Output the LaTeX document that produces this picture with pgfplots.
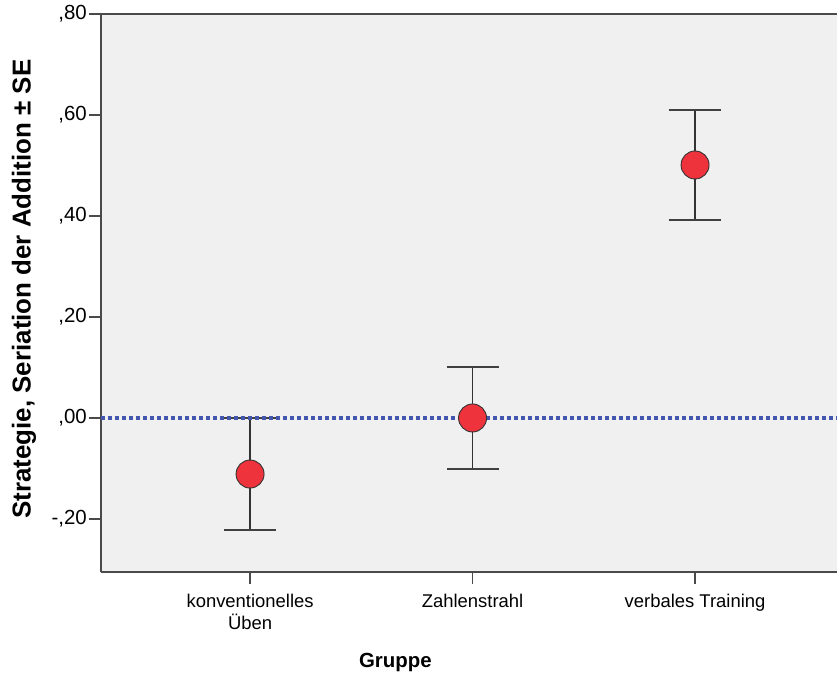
\documentclass[border=0pt]{standalone}
\usepackage{pgfplots}
\pgfplotsset{compat=1.18}
\usepackage{fontspec}
\setmainfont{Liberation Sans}
\definecolor{bgc}{HTML}{F0F0F0}
\definecolor{axc}{HTML}{4A4A4A}
\definecolor{ptc}{HTML}{EE333D}
\definecolor{refc}{HTML}{4257AD}
\begin{document}
\begin{tikzpicture}
\useasboundingbox (0,0) rectangle (837bp,683bp);
\begin{axis}[
  at={(101bp,111bp)}, anchor=south west,
  scale only axis, width=736bp, height=558bp,
  xmin=0.330, xmax=3.638, ymin=-0.305, ymax=0.80,
  axis x line*=bottom, axis y line*=left,
  axis line style={axc, line width=2bp},
  axis background/.style={fill=bgc},
  xtick={1,2,3},
  xticklabels={{konventionelles\\Üben},{Zahlenstrahl},{verbales Training}},
  ytick={-0.2,0,0.2,0.4,0.6,0.8},
  yticklabels={{-,20},{,00},{,20},{,40},{,60},{,80}},
  tick align=outside, major tick length=12bp,
  tick style={axc, line width=1.2bp},
  xticklabel style={align=center, font=\fontsize{18.5}{22}\selectfont, inner sep=10bp},
  yticklabel style={font=\fontsize{20.5}{22}\selectfont, inner sep=2bp},
  xlabel={\textbf{Gruppe}},
  ylabel={\textbf{Strategie, Seriation der Addition ± SE}},
  xlabel style={font=\fontsize{20.5}{24}\selectfont, at={(axis description cs:0.40,-0.163)}, anchor=center},
  ylabel style={font=\fontsize{26}{30}\selectfont, at={(axis description cs:-0.1045,0.507)}, anchor=center},
  clip=true,
]
\addplot[only marks, mark=*, mark size=14bp,
  mark options={fill=ptc, draw=black!80, line width=0.9bp},
  error bars/.cd, y dir=both, y explicit, error mark=|,
  error bar style={line width=1.3bp, color=black!80},
  error mark options={line width=1.3bp, color=black!75, mark size=26bp}]
coordinates {
  (1,-0.111) +- (0,0.111)
  (2,0.000) +- (0,0.101)
  (3,0.501) +- (0,0.109)
};
\addplot[refc, line width=3.2bp, dash pattern=on 4bp off 3bp] coordinates {(0.330,0) (3.638,0)};
\draw[axc, line width=2bp] (rel axis cs:0,1) -- (rel axis cs:1,1);
\end{axis}
\end{tikzpicture}
\end{document}
